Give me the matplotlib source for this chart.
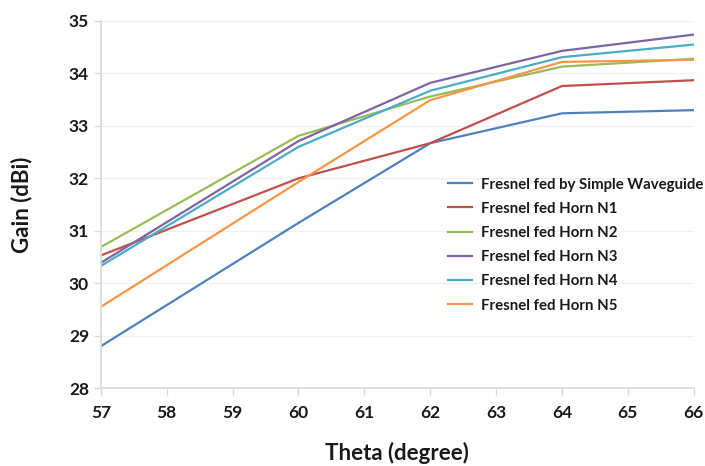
import matplotlib
matplotlib.use('Agg')
import matplotlib.pyplot as plt

# theta (degree) sample points
theta = [57, 60, 62, 64, 66]

# gain (dBi) per feed
waveguide = [28.80, 31.15, 32.67, 33.24, 33.30]
horn_n1 = [30.53, 32.00, 32.67, 33.76, 33.87]
horn_n2 = [30.69, 32.81, 33.56, 34.13, 34.28]
horn_n3 = [30.39, 32.71, 33.82, 34.43, 34.74]
horn_n4 = [30.33, 32.60, 33.67, 34.31, 34.55]
horn_n5 = [29.55, 31.93, 33.49, 34.22, 34.26]

labels = ['Fresnel fed by Simple Waveguide', 'Fresnel fed Horn N1', 'Fresnel fed Horn N2',
          'Fresnel fed Horn N3', 'Fresnel fed Horn N4', 'Fresnel fed Horn N5']
colors = ['#4F81BD', '#C0504D', '#9BBB59', '#8064A2', '#4BACC6', '#F79646']

plt.rcParams['font.family'] = ['Lato', 'DejaVu Sans']

fig = plt.figure(figsize=(7.05, 4.66), dpi=100)
ax = fig.add_axes([0.143, 0.167, 0.841, 0.788])

series = [waveguide, horn_n1, horn_n2, horn_n3, horn_n4, horn_n5]
for ys, lab, c in zip(series, labels, colors):
    ax.plot(theta, ys, color=c, linewidth=1.6, label=lab)

ax.set_xlim(57, 66)
ax.set_ylim(28, 35)
ax.set_xticks(range(57, 67))
ax.set_yticks(range(28, 36))
ax.grid(axis='y', color='#EEF0F5', linewidth=0.8)
ax.set_axisbelow(True)
for s in ['top', 'right']:
    ax.spines[s].set_visible(False)
for s in ['left', 'bottom']:
    ax.spines[s].set_color('#D9D9D9')
    ax.spines[s].set_linewidth(1.2)
ax.tick_params(axis='both', colors='#D9D9D9', length=5, width=1, labelcolor='#1A1A1A',
               labelsize=12.5)
ax.tick_params(axis='x', pad=7)
for t in ax.get_xticklabels() + ax.get_yticklabels():
    t.set_fontweight('bold')

ax.set_xlabel('Theta (degree)', fontsize=16, fontweight='bold', color='#1A1A1A', labelpad=15)
ax.set_ylabel('Gain (dBi)', fontsize=16, fontweight='bold', color='#1A1A1A', labelpad=26)

leg = ax.legend(loc='upper left', bbox_to_anchor=(0.575, 0.59), frameon=False,
                prop={'weight': 'bold', 'size': 10.8}, handlelength=1.6,
                handletextpad=0.65, labelspacing=0.68, borderaxespad=0)
for t in leg.get_texts():
    t.set_color('#1A1A1A')

fig.savefig('out.png', dpi=100)
